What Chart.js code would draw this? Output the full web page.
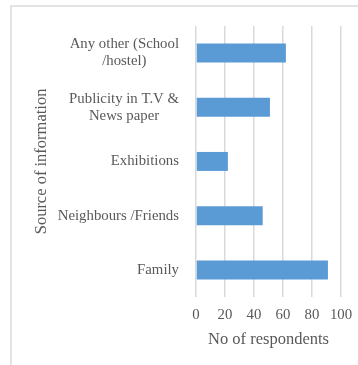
<!DOCTYPE html>
<html>
<head>
<meta charset="utf-8">
<script src="https://cdn.jsdelivr.net/npm/chart.js@4"></script>
<style>
  html, body { margin: 0; padding: 0; background: #ffffff; overflow: hidden; }
  #wrap { position: relative; width: 358px; height: 365px; }
  #frame { position: absolute; left: 10px; top: 5px; width: 400px; height: 400px;
           border: 2px solid #e3e3e3; box-sizing: border-box; }
  canvas { position: absolute; left: 0; top: 0; }
</style>
</head>
<body>
<div id="wrap">
  <div id="frame"></div>
  <canvas id="c" width="358" height="365"></canvas>
</div>
<script>
const categories = [
  ["Any other (School", "/hostel)"],
  ["Publicity in T.V &", "News paper"],
  ["Exhibitions"],
  ["Neighbours /Friends"],
  ["Family"]
];
const respondents = [62, 51, 22, 46, 91];
const xTicks = [0, 20, 40, 60, 80, 100];
const xTitle = "No of respondents";
const yTitle = "Source of information";

const FONT = "'Liberation Serif', 'Times New Roman', serif";
const TEXT = "#595959";

const labelPlugin = {
  id: 'centeredLines',
  afterDraw(chart) {
    const y = chart.scales.y;
    const ctx = chart.ctx;
    const size = 14.8;
    const lh = 17;
    ctx.save();
    ctx.font = size + "px " + FONT;
    ctx.fillStyle = TEXT;
    ctx.textAlign = "center";
    ctx.textBaseline = "middle";
    const right = chart.chartArea.left - 17;
    categories.forEach((lines, i) => {
      const w = Math.max(...lines.map(l => ctx.measureText(l).width));
      const cx = right - w / 2;
      const cy = y.getPixelForValue(i);
      const top = cy - (lines.length - 1) * lh / 2;
      lines.forEach((l, j) => ctx.fillText(l, cx, top + j * lh));
    });
    ctx.restore();
  }
};

new Chart(document.getElementById('c'), {
  type: 'bar',
  data: {
    labels: categories,
    datasets: [{
      data: respondents,
      backgroundColor: '#5B9BD5',
      borderWidth: 0,
      categoryPercentage: 1,
      barPercentage: 0.35
    }]
  },
  plugins: [labelPlugin],
  options: {
    indexAxis: 'y',
    responsive: false,
    animation: false,
    devicePixelRatio: 1,
    layout: { padding: { left: 0, top: 25, right: 17, bottom: 0 } },
    plugins: { legend: { display: false }, tooltip: { enabled: false } },
    scales: {
      x: {
        min: 0, max: 100,
        afterBuildTicks(scale) { scale.ticks = xTicks.map(v => ({ value: v })); },
        afterFit(scale) { scale.height = 68; scale.paddingRight = 0; scale.paddingLeft = 0; },
        grid: { color: '#d9d9d9', lineWidth: 1.5, drawTicks: false },
        border: { display: false },
        ticks: { color: TEXT, font: { family: FONT, size: 14.8 }, padding: 9, maxRotation: 0 },
        title: { display: true, text: xTitle, color: TEXT,
                 font: { family: FONT, size: 16.5 }, padding: { top: 4, bottom: 15 } }
      },
      y: {
        afterFit(scale) { scale.width = 196; },
        grid: { display: false },
        border: { display: false },
        ticks: { color: 'rgba(0,0,0,0)', font: { family: FONT, size: 14.8 }, padding: 17 },
        title: { display: true, text: yTitle, color: TEXT,
                 font: { family: FONT, size: 16.5 }, padding: { top: 32, bottom: 4 } }
      }
    }
  }
});
</script>
</body>
</html>
